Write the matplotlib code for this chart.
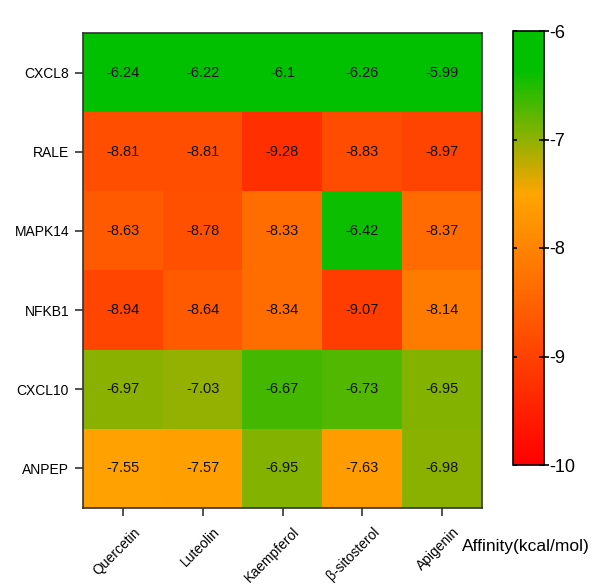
import numpy as np
import matplotlib.pyplot as plt
import matplotlib.lines as mlines
import matplotlib.transforms as mtransforms
from matplotlib.colors import LinearSegmentedColormap

plt.switch_backend('Agg')
plt.rcParams['font.family'] = ['Liberation Sans', 'DejaVu Sans']
plt.rcParams['axes.unicode_minus'] = False

targets = ["CXCL8", "RALE", "MAPK14", "NFKB1", "CXCL10", "ANPEP"]
compounds = ["Quercetin", "Luteolin", "Kaempferol", "β-sitosterol", "Apigenin"]
affinity = np.array([
    [-6.24, -6.22, -6.1, -6.26, -5.99],
    [-8.81, -8.81, -9.28, -8.83, -8.97],
    [-8.63, -8.78, -8.33, -6.42, -8.37],
    [-8.94, -8.64, -8.34, -9.07, -8.14],
    [-6.97, -7.03, -6.67, -6.73, -6.95],
    [-7.55, -7.57, -6.95, -7.63, -6.98],
])
labels = [
    ["-6.24", "-6.22", "-6.1", "-6.26", "-5.99"],
    ["-8.81", "-8.81", "-9.28", "-8.83", "-8.97"],
    ["-8.63", "-8.78", "-8.33", "-6.42", "-8.37"],
    ["-8.94", "-8.64", "-8.34", "-9.07", "-8.14"],
    ["-6.97", "-7.03", "-6.67", "-6.73", "-6.95"],
    ["-7.55", "-7.57", "-6.95", "-7.63", "-6.98"],
]
vmin, vmax = -10, -6
cbar_ticks = [-6, -7, -8, -9, -10]

# red -> orange -> green
nodes = [(-10, "#ff0000"), (-7.5, "#ffa500"), (-6.35, "#00c000"), (-6, "#00c000")]
cmap = LinearSegmentedColormap.from_list(
    "aff", [((v - vmin) / (vmax - vmin), c) for v, c in nodes])

fig = plt.figure(figsize=(5.92, 5.85), dpi=100)
ax = fig.add_axes([83 / 592, 1 - 508 / 585, 399 / 592, 475 / 585])
im = ax.imshow(affinity, cmap=cmap, vmin=vmin, vmax=vmax, aspect='auto')

for i in range(len(targets)):
    for j in range(len(compounds)):
        ax.text(j, i, labels[i][j], ha='center', va='center', fontsize=10.5, color='#111111')

ax.set_yticks(range(len(targets)))
ax.set_yticklabels(targets, fontsize=10)
ax.set_xticks(range(len(compounds)))
ax.set_xticklabels(compounds, fontsize=10, rotation=45, ha='right', rotation_mode='anchor')
ax.tick_params(length=6, width=1.2, color='#333333', pad=4)
# nudge rotated labels a bit right/down like the original
shift = mtransforms.ScaledTranslation(10 / 100, -3 / 100, fig.dpi_scale_trans)
for lbl in ax.get_xticklabels():
    lbl.set_transform(lbl.get_transform() + shift)
for s in ax.spines.values():
    s.set_color('#333333')
    s.set_linewidth(1.2)

cax = fig.add_axes([513 / 592, 1 - 465 / 585, 31 / 592, 434 / 585])
cb = fig.colorbar(im, cax=cax, ticks=cbar_ticks)
cb.outline.set_linewidth(1.2)
cb.ax.tick_params(labelsize=13, length=3, width=1.2, direction='out', left=True, right=True,
                  labelleft=False, labelright=True, pad=1)
# inward marks on the left edge, crossing marks on the right
for t in cb.ax.yaxis.get_major_ticks():
    t.tick1line.set_marker(mlines.TICKRIGHT)
    t.tick2line.set_marker('_')
    t.tick2line.set_markersize(7)

fig.text(590 / 592, 1 - 546 / 585, "Affinity(kcal/mol)", ha='right', va='center', fontsize=12.5)

fig.savefig("out.png", dpi=100)
